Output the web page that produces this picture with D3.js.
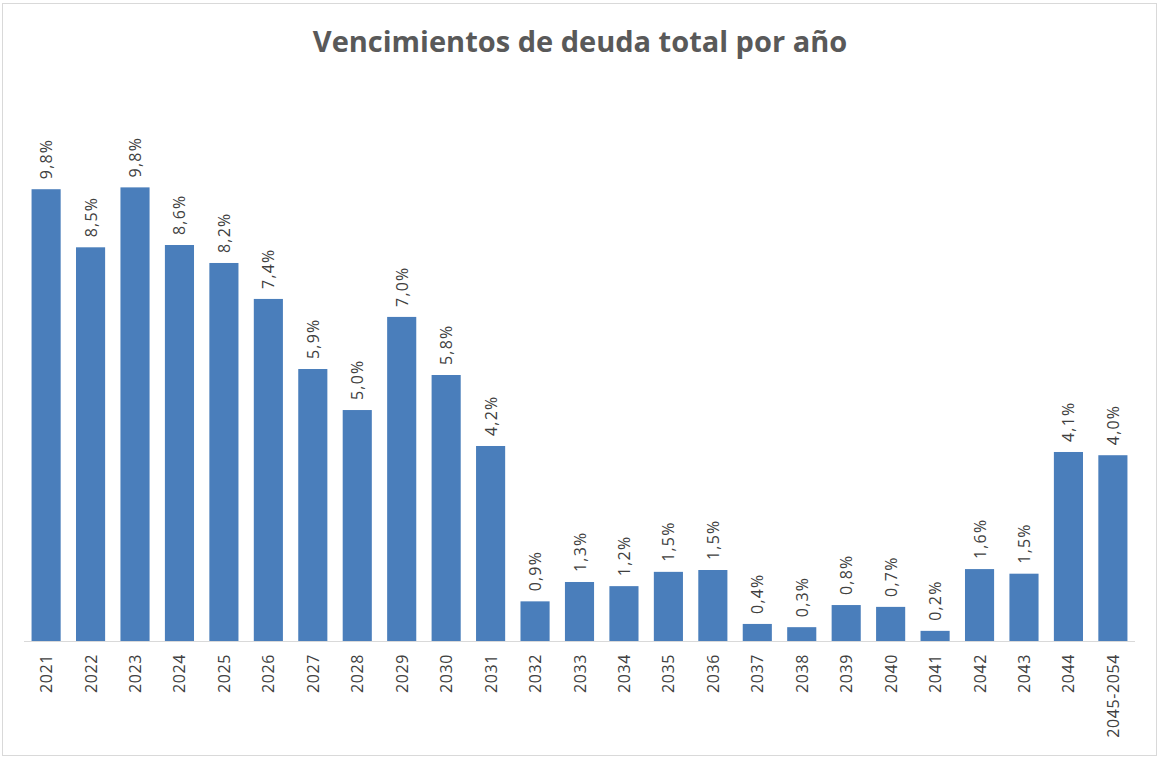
<!DOCTYPE html>
<html>
<head>
<meta charset="utf-8">
<script src="https://cdn.jsdelivr.net/npm/d3@7"></script>
<style>
  body { margin: 0; background: #fff; }
  svg { display: block; font-family: "Open Sans", "Liberation Sans", sans-serif; }
</style>
</head>
<body>
<div id="chart"></div>
<script>
// data (percent of total debt)
var years = ["2021", "2022", "2023", "2024", "2025", "2026", "2027", "2028", "2029", "2030",
    "2031", "2032", "2033", "2034", "2035", "2036", "2037", "2038", "2039", "2040",
    "2041", "2042", "2043", "2044", "2045-2054"];
var shares = [9.80, 8.54, 9.84, 8.59, 8.20, 7.42, 5.90, 5.01, 7.03, 5.77,
    4.23, 0.86, 1.28, 1.19, 1.50, 1.54, 0.37, 0.30, 0.78, 0.74,
    0.22, 1.56, 1.46, 4.10, 4.03];
var title = "Vencimientos de deuda total por año";

var svgWidth = 1159, svgHeight = 759;

var svg = d3.select("#chart").append("svg")
    .attr("width", svgWidth)
    .attr("height", svgHeight);

// outer frame
svg.append("rect")
    .attr("x", 2.5).attr("y", 3.5)
    .attr("width", svgWidth - 5).attr("height", svgHeight - 7)
    .attr("fill", "#fff")
    .attr("stroke", "#d9d9d9");

svg.append("text")
    .attr("x", 580).attr("y", 52)
    .attr("text-anchor", "middle")
    .attr("font-size", 29)
    .attr("font-weight", "bold")
    .attr("fill", "#595959")
    .text(title);

var baseY = 641;
var xscale = d3.scaleBand().domain(years).range([24, 1135]).paddingInner(0.345).paddingOuter(0.17);
var yscale = d3.scaleLinear().domain([0, 10]).range([baseY, baseY - 461]);

var es = d3.formatLocale({ decimal: ",", thousands: ".", grouping: [3], currency: ["", "€"] });
var fmt = es.format(".1f");

// bars
svg.selectAll("rect.bar").data(shares).enter().append("rect")
    .attr("class", "bar")
    .attr("x", (d, i) => xscale(years[i]))
    .attr("y", d => yscale(d))
    .attr("width", xscale.bandwidth())
    .attr("height", d => baseY - yscale(d))
    .attr("fill", "#4a7ebb");

// value labels
svg.selectAll("text.val").data(shares).enter().append("text")
    .attr("class", "val")
    .attr("transform", (d, i) => `translate(${xscale(years[i]) + xscale.bandwidth() / 2 + 6}, ${yscale(d) - 10}) rotate(-90)`)
    .attr("font-size", 16)
    .attr("letter-spacing", 1.2)
    .attr("fill", "#404040")
    .text(d => fmt(d) + "%");

// x axis
var bottomAxis = d3.axisBottom(xscale).tickSize(0).tickPadding(0);
var axisG = svg.append("g")
    .attr("transform", `translate(0, ${baseY})`)
    .call(bottomAxis);
axisG.select(".domain").attr("stroke", "#d9d9d9").attr("d", "M24,0.5H1135");
axisG.selectAll("text")
    .attr("font-family", "\"Open Sans\", \"Liberation Sans\", sans-serif")
    .attr("font-size", 16)
    .attr("letter-spacing", 0.6)
    .attr("fill", "#404040")
    .attr("text-anchor", "end")
    .attr("dy", null)
    .attr("y", 0)
    .attr("transform", "translate(6, 13) rotate(-90)");
</script>
</body>
</html>
